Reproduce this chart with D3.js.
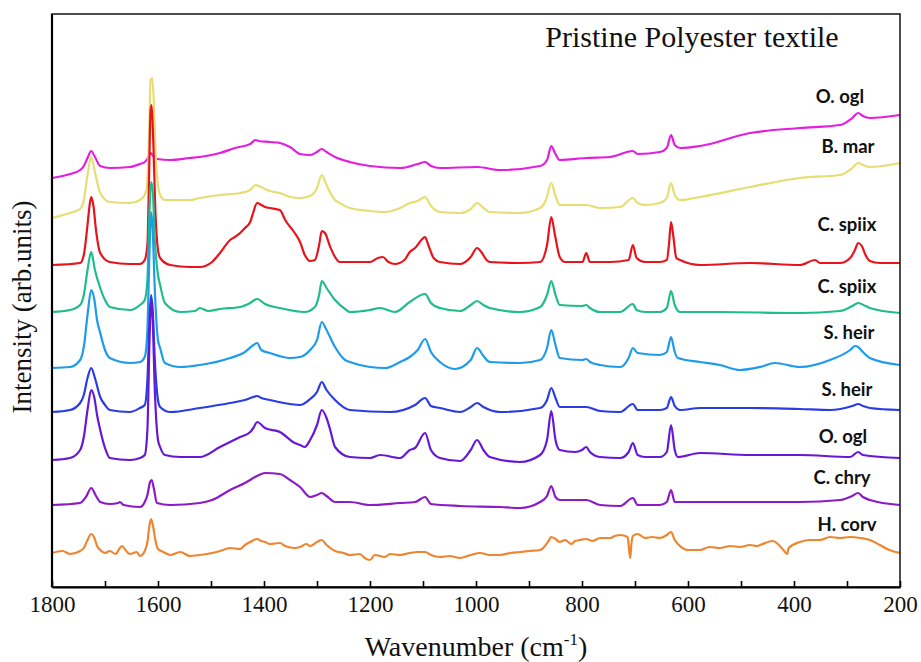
<!DOCTYPE html>
<html>
<head>
<meta charset="utf-8">
<script src="https://cdn.jsdelivr.net/npm/d3@7/dist/d3.min.js"></script>
<style>
  html, body { margin: 0; padding: 0; background: #fff; }
  svg { display: block; }
  .serif { font-family: "Liberation Serif", "Times New Roman", Times, serif; }
  .lbl { font-family: Lato, "Open Sans", sans-serif; font-weight: bold; }
</style>
</head>
<body>
<svg id="chart" width="921" height="662"></svg>
<script>
// ---------------- DATA ----------------
// Each spectrum: [wavenumber (cm-1), stacked intensity (arb. units)]
const oOgl1 = [[1800,409],[1766,413],[1747,417],[1740,421],[1733,429],[1726,436],[1719,430],[1709,421],[1691,419],[1653,420],[1634,423],[1625,425],[1619,429],[1614,434],[1609,431],[1602,428],[1577,427],[1540,429],[1521,430],[1483,434],[1455,439],[1426,443],[1416,447],[1410,446],[1389,445],[1370,444],[1351,440],[1332,433],[1313,432],[1300,435],[1291,438],[1282,435],[1266,430],[1238,425],[1200,421],[1143,419],[1110,423],[1096,425],[1085,421],[1068,419],[998,420],[955,417],[879,421],[866,427],[858,441],[851,434],[842,427],[792,429],[747,430],[704,436],[695,433],[653,435],[640,439],[632,452],[625,442],[615,439],[577,441],[483,454],[389,459],[313,462],[290,469],[279,474],[270,471],[257,469],[200,472]];
const bMar = [[1800,369],[1766,374],[1747,378],[1740,387],[1733,412],[1726,430],[1719,415],[1709,394],[1691,385],[1653,384],[1634,387],[1625,392],[1621,400],[1617,447],[1614,507],[1611,509],[1608,487],[1604,427],[1600,402],[1596,392],[1587,387],[1540,387],[1521,389],[1483,392],[1445,394],[1426,397],[1416,402],[1410,401],[1389,396],[1370,394],[1351,390],[1332,389],[1313,391],[1300,399],[1291,412],[1282,402],[1266,387],[1257,384],[1238,379],[1200,376],[1172,375],[1143,379],[1125,384],[1110,386],[1096,390],[1085,381],[1068,375],[1030,374],[1010,378],[998,384],[986,379],[974,375],[917,374],[879,379],[868,387],[858,404],[850,391],[842,382],[792,382],[766,379],[728,380],[704,389],[695,384],[681,382],[653,384],[640,389],[632,404],[625,392],[615,387],[577,390],[483,400],[389,409],[313,412],[290,419],[279,424],[270,422],[257,420],[200,424]];
const cSpiix1 = [[1800,322],[1747,324],[1740,332],[1733,362],[1729,382],[1726,390],[1722,382],[1717,357],[1709,334],[1691,325],[1653,323],[1634,323],[1625,327],[1620,342],[1617,407],[1614,477],[1612,482],[1609,447],[1605,377],[1600,337],[1596,329],[1577,322],[1540,320],[1521,320],[1498,325],[1483,334],[1464,347],[1455,350],[1445,354],[1436,359],[1426,365],[1420,375],[1413,384],[1405,382],[1398,380],[1389,379],[1370,377],[1360,367],[1342,354],[1332,345],[1323,332],[1313,326],[1304,327],[1296,342],[1291,356],[1285,354],[1275,340],[1266,330],[1257,325],[1200,325],[1185,329],[1176,330],[1165,325],[1153,323],[1135,327],[1125,335],[1115,339],[1103,347],[1096,350],[1090,342],[1080,329],[1068,325],[1030,323],[1010,330],[998,339],[990,335],[980,327],[974,325],[917,324],[879,325],[866,342],[858,370],[851,352],[842,330],[832,325],[799,325],[792,334],[785,325],[747,325],[712,327],[704,342],[697,329],[681,325],[653,325],[640,327],[636,342],[632,365],[628,352],[622,329],[615,327],[577,322],[483,324],[389,322],[360,327],[351,324],[313,324],[294,329],[285,337],[279,344],[272,341],[265,332],[257,326],[238,324],[200,324]];
const cSpiix2 = [[1800,275],[1766,277],[1747,282],[1740,292],[1733,317],[1726,335],[1719,317],[1709,299],[1700,287],[1691,280],[1653,277],[1634,282],[1625,287],[1620,307],[1616,377],[1613,405],[1610,397],[1606,347],[1600,312],[1596,302],[1587,284],[1558,275],[1530,276],[1521,279],[1505,276],[1483,278],[1445,280],[1426,284],[1413,288],[1398,283],[1370,279],[1323,275],[1304,280],[1296,292],[1291,306],[1282,299],[1266,287],[1247,278],[1238,275],[1200,277],[1181,279],[1153,275],[1125,285],[1096,293],[1085,284],[1068,279],[1030,276],[1010,282],[998,286],[986,282],[974,279],[917,275],[879,280],[866,292],[858,306],[850,292],[842,282],[800,281],[792,282],[785,279],[766,275],[728,275],[704,283],[697,277],[681,275],[653,275],[640,279],[632,296],[625,282],[615,275],[540,275],[389,274],[313,276],[290,281],[279,284],[265,281],[257,279],[200,274]];
const sHeir1 = [[1800,219],[1766,220],[1747,227],[1740,240],[1733,272],[1726,297],[1720,287],[1715,267],[1709,254],[1700,237],[1691,229],[1653,224],[1634,225],[1625,230],[1620,257],[1616,337],[1613,375],[1610,357],[1606,297],[1600,247],[1596,239],[1587,224],[1558,220],[1521,222],[1464,229],[1436,235],[1420,242],[1413,244],[1405,237],[1389,234],[1351,229],[1332,230],[1313,237],[1300,247],[1291,265],[1282,257],[1266,240],[1247,227],[1238,225],[1200,220],[1172,219],[1143,225],[1125,230],[1110,237],[1096,248],[1085,235],[1068,225],[1040,218],[1010,227],[998,239],[986,231],[974,225],[917,224],[879,227],[866,239],[858,257],[850,242],[842,229],[800,227],[792,228],[785,225],[766,222],[728,220],[712,229],[704,239],[695,234],[653,232],[640,235],[632,250],[625,235],[619,229],[577,225],[540,222],[502,217],[464,220],[436,224],[389,220],[332,227],[294,237],[285,241],[279,240],[270,235],[257,229],[200,222]];
const sHeir2 = [[1800,175],[1766,177],[1747,184],[1740,192],[1733,209],[1726,219],[1719,209],[1709,190],[1700,182],[1691,177],[1653,175],[1634,179],[1625,182],[1620,207],[1616,267],[1613,292],[1610,277],[1606,227],[1600,187],[1596,180],[1577,175],[1521,179],[1464,184],[1436,187],[1420,190],[1413,191],[1405,189],[1389,187],[1351,183],[1332,182],[1313,188],[1300,195],[1291,205],[1282,197],[1266,187],[1238,177],[1162,175],[1115,182],[1096,189],[1085,181],[1068,179],[1030,175],[1010,180],[998,184],[986,180],[955,175],[879,179],[866,187],[858,199],[850,189],[842,180],[792,180],[766,176],[728,175],[704,183],[695,177],[653,177],[640,179],[632,190],[625,181],[615,177],[577,179],[483,179],[389,178],[332,177],[290,181],[279,183],[270,181],[257,179],[200,177]];
const oOgl2 = [[1800,127],[1766,129],[1747,137],[1740,150],[1733,177],[1726,197],[1720,189],[1715,172],[1709,157],[1700,139],[1691,129],[1653,127],[1634,129],[1625,132],[1620,157],[1616,247],[1613,287],[1610,267],[1606,197],[1600,147],[1596,140],[1587,132],[1558,130],[1521,130],[1483,140],[1445,150],[1426,155],[1420,159],[1413,165],[1398,159],[1370,155],[1342,144],[1332,142],[1323,140],[1313,147],[1300,162],[1291,177],[1282,169],[1275,157],[1266,140],[1238,130],[1200,129],[1181,132],[1143,129],[1125,137],[1115,139],[1096,154],[1085,137],[1068,129],[1030,126],[1010,137],[998,147],[986,137],[974,130],[917,125],[879,132],[866,147],[858,176],[850,147],[842,137],[813,135],[800,137],[792,140],[785,135],[766,130],[728,129],[712,135],[704,144],[695,132],[681,130],[653,130],[640,135],[632,162],[625,137],[619,130],[577,134],[483,132],[389,132],[294,130],[279,135],[270,132],[200,129]];
const cChry = [[1800,82],[1747,84],[1736,90],[1726,99],[1717,91],[1709,85],[1691,83],[1675,84],[1672,85],[1665,82],[1634,80],[1625,85],[1620,92],[1615,105],[1612,107],[1608,99],[1602,84],[1577,82],[1521,84],[1498,87],[1464,97],[1436,104],[1413,111],[1398,114],[1370,113],[1351,107],[1332,100],[1313,90],[1300,92],[1291,94],[1282,91],[1266,85],[1238,85],[1200,82],[1143,84],[1115,85],[1096,90],[1085,83],[1030,81],[955,80],[917,79],[879,85],[866,91],[858,101],[850,90],[842,87],[792,87],[766,82],[728,81],[704,89],[695,82],[653,82],[640,85],[632,97],[625,85],[577,85],[483,85],[389,85],[313,87],[290,91],[279,94],[270,90],[257,87],[200,82]];
const hCorv = [[1800,34],[1780,36],[1766,33],[1747,36],[1740,39],[1733,47],[1726,53],[1720,49],[1715,41],[1709,37],[1700,34],[1691,36],[1680,33],[1672,39],[1668,41],[1660,36],[1653,33],[1640,35],[1634,31],[1625,36],[1620,45],[1616,62],[1613,68],[1609,60],[1605,47],[1600,38],[1590,35],[1577,32],[1558,35],[1540,31],[1521,32],[1498,34],[1483,36],[1464,39],[1445,38],[1436,42],[1426,45],[1413,48],[1405,46],[1398,45],[1389,43],[1370,44],[1360,41],[1342,39],[1332,40],[1320,43],[1313,41],[1300,45],[1291,47],[1282,42],[1266,36],[1250,34],[1238,32],[1219,33],[1210,29],[1200,27],[1191,32],[1172,30],[1162,33],[1143,32],[1125,34],[1110,35],[1096,35],[1085,32],[1068,30],[1050,31],[1030,29],[1010,32],[992,34],[974,32],[955,32],[935,34],[917,35],[900,36],[879,37],[870,41],[862,47],[858,50],[850,48],[842,45],[832,47],[820,43],[813,46],[804,47],[792,48],[780,46],[766,49],[747,49],[738,51],[728,52],[714,50],[711,37],[709,29],[707,42],[704,51],[695,53],[681,49],[668,50],[653,49],[640,52],[632,55],[625,47],[619,43],[600,37],[577,37],[560,40],[540,39],[520,41],[502,40],[483,42],[470,41],[464,42],[440,46],[420,37],[413,33],[410,39],[389,45],[370,47],[351,47],[332,50],[313,49],[294,50],[275,49],[257,47],[238,42],[220,37],[200,34]];

const seriesNames = ["O. ogl","B. mar","C. spiix","C. spiix","S. heir","S. heir","O. ogl","C. chry","H. corv"];
const seriesData = [oOgl1, bMar, cSpiix1, cSpiix2, sHeir1, sHeir2, oOgl2, cChry, hCorv];
const xTicks = [1800,1700,1600,1500,1400,1300,1200,1100,1000,900,800,700,600,500,400,300,200];
const xTickLabels = ["1800","","1600","","1400","","1200","","1000","","800","","600","","400","","200"];
const chartTitle = "Pristine Polyester textile";
const xTitle = "Wavenumber (cm";
const xTitleSup = "-1";
const yTitle = "Intensity (arb.units)";

// ---------------- STYLE / LAYOUT ----------------
const colors = ["#E41EE0","#E6DE72","#E8141C","#1FBC8C","#1E9BEA","#2A3CE6","#6618D6","#8C1AC6","#EE8630"];
const labelY = [97,147,225,287,333,390,437,478,525];   // vertical centres of labels
const labelX = [840,848,847,847,849,847,843,842,847];  // horizontal centres of labels
const plot = {left:52, right:900, top:14, bottom:587};

const svg = d3.select("#chart");
const x = d3.scaleLinear().domain([1800,200]).range([plot.left, plot.right]);
const y = d3.scaleLinear().domain([0,573]).range([plot.bottom, plot.top]);

// spectra (upper first, so lower traces sit on top)
const line = d3.line().x(d => x(d[0])).y(d => y(d[1])).curve(d3.curveMonotoneX);
svg.append("g").selectAll("path").data(seriesData).join("path")
  .attr("d", line)
  .attr("fill","none")
  .attr("stroke",(d,i)=>colors[i])
  .attr("stroke-width",2.2)
  .attr("stroke-linejoin","round");

// frame
svg.append("rect").attr("x",plot.left).attr("y",plot.top)
  .attr("width",plot.right-plot.left).attr("height",plot.bottom-plot.top)
  .attr("fill","none").attr("stroke","#222").attr("stroke-width",1.6);

// x axis
const xAxis = d3.axisBottom(x).tickValues(xTicks)
  .tickFormat((d,i)=>xTickLabels[i]).tickSizeInner(-6).tickSizeOuter(0).tickPadding(9);
const gx = svg.append("g").attr("transform",`translate(0,${plot.bottom})`).call(xAxis);
gx.attr("font-family", null).attr("font-size", null);
gx.select(".domain").attr("stroke","#000").attr("stroke-width",2.2);
gx.selectAll(".tick line").attr("stroke","#000").attr("stroke-width",1.6);
gx.selectAll(".tick text").attr("class","serif")
  .style("font-size","23px").attr("fill","#111");
// left spine thicker
svg.append("line").attr("x1",plot.left).attr("x2",plot.left).attr("y1",plot.top).attr("y2",plot.bottom)
  .attr("stroke","#000").attr("stroke-width",2.2);

// labels
svg.append("g").selectAll("text").data(seriesNames).join("text")
  .attr("class","lbl")
  .attr("x",(d,i)=>labelX[i]).attr("y",(d,i)=>labelY[i]).attr("dy","0.35em")
  .attr("text-anchor","middle")
  .style("font-size","18.5px").attr("fill","#111")
  .text(d=>d);

// titles
svg.append("text").attr("class","serif").attr("x",692).attr("y",47).attr("text-anchor","middle")
  .style("font-size","30px").attr("fill","#111")
  .text(chartTitle);

const xt = svg.append("text").attr("class","serif").attr("x",476).attr("y",656).attr("text-anchor","middle")
  .style("font-size","28px").attr("fill","#111");
xt.append("tspan").text(xTitle);
xt.append("tspan").attr("dy",-11).style("font-size","17px").text(xTitleSup);
xt.append("tspan").attr("dy",11).text(")");

svg.append("text").attr("class","serif").attr("transform","translate(31,307) rotate(-90)").attr("text-anchor","middle")
  .style("font-size","27px").attr("fill","#111")
  .text(yTitle);
</script>
</body>
</html>
